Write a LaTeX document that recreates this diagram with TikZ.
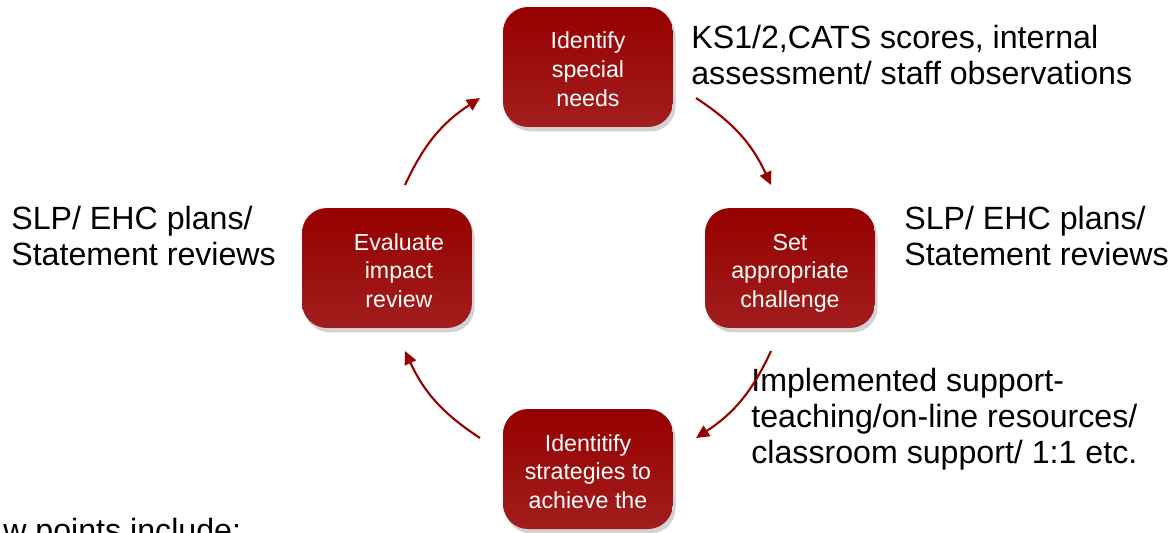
\documentclass[tikz,border=0pt]{standalone}
\usepackage{fontspec}
\setmainfont{Liberation Sans}
\usetikzlibrary{arrows.meta, shadows}
\definecolor{cyclered}{RGB}{150,0,0}
\definecolor{cyclelight}{RGB}{162,30,30}

\begin{document}
\begin{tikzpicture}[x=0.02cm, y=-0.02cm, >={Triangle[length=7.5pt,width=7pt]},
  stage/.style={rounded corners=0.5cm, top color=cyclered, bottom color=cyclelight,
    minimum width=3.4cm, minimum height=2.4cm, inner sep=0pt, text=white, align=center,
    font=\fontsize{13.2}{16.4}\selectfont,
    execute at begin node={\rule{0pt}{48.1pt}}, execute at end node={\rule[-3pt]{0pt}{0pt}},
    drop shadow={opacity=0.35, shadow xshift=1.5pt, shadow yshift=-2.5pt}},
  note/.style={anchor=north west, align=left, inner sep=0pt, font=\fontsize{18.3}{20.5}\selectfont},
  cycle/.style={->, cyclered, line width=1.2pt}]
  \useasboundingbox (0,0) rectangle (1173,532);
  \node (identify) at (588,67) [stage] {Identify\\special\\needs};
  \node (challenge) at (790,268) [stage] {Set\\appropriate\\challenge};
  \node (strategies) at (588,469) [stage] {Identitify\\strategies to\\achieve the};
  \node (evaluate) at (387,268) [stage] {\hspace*{0.48cm}Evaluate\\\hspace*{0.48cm}impact\\\hspace*{0.48cm}review};
  \node (scores) at (691,25) [note] {KS1/2,CATS scores, internal\\assessment/ staff observations};
  \node (plansright) at (904,206) [note] {SLP/ EHC plans/\\Statement reviews};
  \node (plansleft) at (11,206) [note] {SLP/ EHC plans/\\Statement reviews};
  \node (support) at (751,368) [note] {Implemented support-\\teaching/on-line resources/\\classroom support/ 1:1 etc.};
  \node (points) at (3,541) [anchor=base west, inner sep=0pt, font=\fontsize{18.3}{20.5}\selectfont] {w points include:};
  \coordinate (evalout) at (405,185);
  \coordinate (identin) at (480,98);
  \coordinate (identout) at (696,98);
  \coordinate (setin) at (771,185);
  \coordinate (setout) at (771,351);
  \coordinate (stratin) at (696,438);
  \coordinate (stratout) at (480,438);
  \coordinate (evalin) at (405,351);
  \draw [cycle] (evalout) to [bend left=16] (identin);
  \draw [cycle] (identout) to [bend left=16] (setin);
  \draw [cycle] (setout) to [bend left=16] (stratin);
  \draw [cycle] (stratout) to [bend left=16] (evalin);
\end{tikzpicture}
\end{document}
